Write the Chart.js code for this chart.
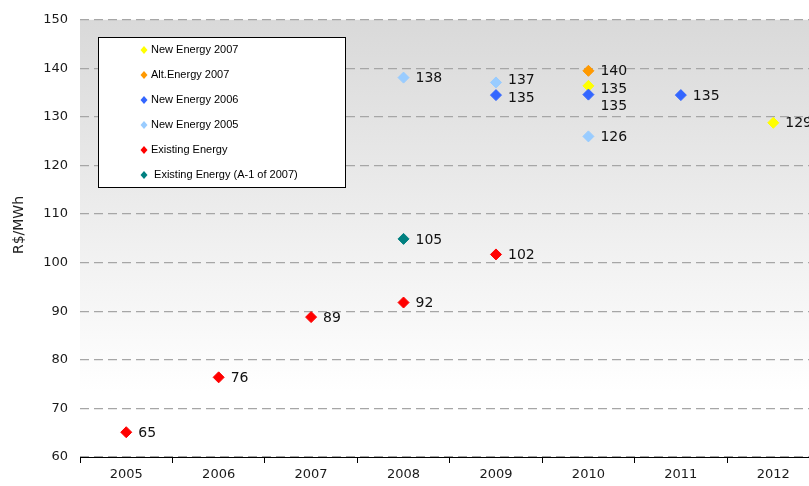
<!DOCTYPE html>
<html>
<head>
<meta charset="utf-8">
<script src="https://cdn.jsdelivr.net/npm/chart.js@4.4.0/dist/chart.umd.min.js"></script>
<style>
  html, body { margin: 0; padding: 0; background: #fff; overflow: hidden; }
  #wrap { width: 826px; height: 486px; }
</style>
</head>
<body>
<div id="wrap"><canvas id="priceChart"></canvas></div>
<script>
// auction years on the x axis
const years = ['2005', '2006', '2007', '2008', '2009', '2010', '2011', '2012'];

const newEnergy2007Years = ['2010', '2012'];
const newEnergy2007Values = [136.4, 128.8];
const newEnergy2007Labels = ['135', '129'];

const altEnergy2007Years = ['2010'];
const altEnergy2007Values = [139.5];
const altEnergy2007Labels = ['140'];

const newEnergy2006Years = ['2009', '2010', '2011'];
const newEnergy2006Values = [134.5, 134.6, 134.5];
const newEnergy2006Labels = ['135', '135', '135'];

const newEnergy2005Years = ['2008', '2009', '2010'];
const newEnergy2005Values = [138.1, 137.1, 126.0];
const newEnergy2005Labels = ['138', '137', '126'];

const existingYears = ['2005', '2006', '2007', '2008', '2009'];
const existingValues = [65.1, 76.4, 88.8, 91.8, 101.7];
const existingLabels = ['65', '76', '89', '92', '102'];

const existingA1Years = ['2008'];
const existingA1Values = [104.9];
const existingA1Labels = ['105'];

const toPoints = (xs, ys) => xs.map((x, i) => ({ x: x, y: ys[i] }));

const makeSet = (label, xs, ys, texts, color, order) => ({
    label: label,
    data: toPoints(xs, ys),
    valueLabels: texts,
    showLine: false,
    pointStyle: 'rectRot',
    pointRadius: 5.5,
    pointBorderWidth: 1,
    pointBackgroundColor: color,
    pointBorderColor: color,
    backgroundColor: color,
    borderColor: color,
    order: order,
});

const datasets = [
    makeSet('New Energy 2007', newEnergy2007Years, newEnergy2007Values, newEnergy2007Labels, '#ffff00', 3),
    makeSet('Alt.Energy 2007', altEnergy2007Years, altEnergy2007Values, altEnergy2007Labels, '#ff9900', 1),
    makeSet('New Energy 2006', newEnergy2006Years, newEnergy2006Values, newEnergy2006Labels, '#3366ff', 1),
    makeSet('New Energy 2005', newEnergy2005Years, newEnergy2005Values, newEnergy2005Labels, '#99ccff', 1),
    makeSet('Existing Energy', existingYears, existingValues, existingLabels, '#ff0000', 1),
    makeSet(' Existing Energy (A-1 of 2007)', existingA1Years, existingA1Values, existingA1Labels, '#008080', 1),
];

// plot background: grey at the top fading to white
const plotBackground = {
    id: 'plotBackground',
    beforeDraw(chart) {
        const { ctx, chartArea: a } = chart;
        const g = ctx.createLinearGradient(0, a.top, 0, a.bottom);
        g.addColorStop(0, '#d9d9d9');
        g.addColorStop(0.85, '#ffffff');
        g.addColorStop(1, '#ffffff');
        ctx.save();
        ctx.fillStyle = g;
        ctx.fillRect(a.left, a.top, a.right - a.left, a.bottom - a.top);
        ctx.restore();
    },
};

// numbers next to each marker
const valueLabels = {
    id: 'valueLabels',
    afterDatasetsDraw(chart) {
        const ctx = chart.ctx;
        ctx.save();
        ctx.font = '14px "DejaVu Sans"';
        ctx.fillStyle = '#111';
        ctx.textBaseline = 'middle';
        chart.data.datasets.forEach((ds, i) => {
            chart.getDatasetMeta(i).data.forEach((pt, j) => {
                let dy = 1;
                // the two 2010 labels at 135 are pulled apart
                if (ds.label === 'New Energy 2006' && ds.data[j].x === '2010') dy = 12;
                if (ds.label === 'New Energy 2007' && ds.data[j].x === '2010') dy = 3;
                if (ds.label === 'New Energy 2005' && ds.data[j].x === '2009') dy = -2;
                if (ds.label === 'New Energy 2006' && ds.data[j].x === '2009') dy = 3;
                ctx.fillText(ds.valueLabels[j], pt.x + 12, pt.y + dy);
            });
        });
        ctx.restore();
    },
};

// boxed legend sitting inside the plot, plus the y axis title
const boxLegend = {
    id: 'boxLegend',
    afterDraw(chart) {
        const ctx = chart.ctx;
        ctx.save();
        ctx.fillStyle = '#fff';
        ctx.strokeStyle = '#000';
        ctx.lineWidth = 1;
        ctx.fillRect(98.5, 37.5, 247, 150);
        ctx.strokeRect(98.5, 37.5, 247, 150);
        ctx.font = '11px "Liberation Sans", Arial';
        ctx.textBaseline = 'middle';
        chart.data.datasets.forEach((ds, i) => {
            const y = 50 + i * 25;
            ctx.fillStyle = ds.backgroundColor;
            ctx.beginPath();
            ctx.moveTo(144, y - 4);
            ctx.lineTo(147.5, y);
            ctx.lineTo(144, y + 4);
            ctx.lineTo(140.5, y);
            ctx.closePath();
            ctx.fill();
            ctx.fillStyle = '#000';
            ctx.fillText(ds.label, 151, y);
        });

        ctx.translate(19, 225);
        ctx.rotate(-Math.PI / 2);
        ctx.textAlign = 'center';
        ctx.textBaseline = 'middle';
        ctx.font = '14px "DejaVu Sans"';
        ctx.fillStyle = '#222';
        ctx.fillText('R$/MWh', 0, 0);
        ctx.restore();
    },
};

const ctx = document.getElementById('priceChart').getContext('2d');
new Chart(ctx, {
    type: 'line',
    data: { labels: years, datasets: datasets },
    plugins: [plotBackground, valueLabels, boxLegend],
    options: {
        responsive: true,
        maintainAspectRatio: false,
        animation: false,
        events: [],
        layout: { padding: { top: 19, left: 0, right: 1, bottom: 0 } },
        plugins: {
            legend: { display: false },
            tooltip: { enabled: false },
        },
        scales: {
            x: {
                type: 'category',
                offset: true,
                afterFit: (s) => { s.height = 29; },
                grid: {
                    offset: true,
                    drawOnChartArea: false,
                    drawTicks: true,
                    tickLength: 6,
                    color: '#000',
                },
                border: { display: true, color: '#000', width: 1 },
                ticks: {
                    padding: 4,
                    color: '#1a1a1a',
                    font: { family: 'DejaVu Sans', size: 13 },
                },
            },
            y: {
                min: 60,
                max: 150,
                afterFit: (s) => { s.width = 80; },
                grid: { color: '#a6a6a6', lineWidth: 1.3, drawTicks: false },
                border: { display: false, dash: [9, 5] },
                ticks: {
                    stepSize: 10,
                    padding: 12,
                    color: '#1a1a1a',
                    font: { family: 'DejaVu Sans', size: 13 },
                },
            },
        },
    },
});
</script>
</body>
</html>
